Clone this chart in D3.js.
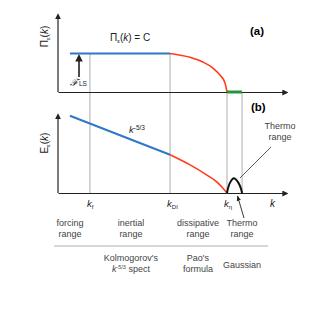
<!DOCTYPE html>
<html lang="en">
  <head>
    <meta charset="utf-8">
    <script src="https://cdn.jsdelivr.net/npm/d3@7"></script>
    <style>
      body { margin: 0; background: #fff; }
      svg text { font-family: "Liberation Sans", Arial, sans-serif; }
      .lbl { font-size: 9.5px; fill: #222; }
      .rng { font-size: 9px; fill: #444; text-anchor: middle; }
      .axis path { stroke: #222; stroke-width: 1.2; }
    </style>
  </head>
  <body>
    <svg width="313" height="313" id="chart"></svg>
    <script>
// k positions (arbitrary units along the k axis)
const kMarks = [
  {name: "f", k: 14.2},
  {name: "DI", k: 49.8},
  {name: "η", k: 75.1},
  {name: "", k: 81.8}
];

// panel (a): energy flux
const fluxFlat = [[5.3, 0.5], [49.8, 0.5]];
const fluxDrop = [[49.8, 0.5], [58.7, 0.45], [64.4, 0.39], [68.9, 0.31], [72, 0.22], [74.2, 0.12], [75.1, 0]];
const fluxThermo = [[75.1, 0], [81.8, 0]];

// panel (b): energy spectrum
const specInertial = [[5.3, 0.99], [49.8, 0.49]];
const specDissip = [[49.8, 0.49], [58.7, 0.36], [66.2, 0.23], [70.7, 0.14], [73, 0.07], [75.1, 0]];
const specThermo = [[75.1, 0], [76.4, 0.13], [78.2, 0.19], [80, 0.14], [81.3, 0.06], [81.8, 0]];

// range labels
const rangeTop = [
  {k: 5.3, lines: ["forcing", "range"]},
  {k: 32.4, lines: ["inertial", "range"]},
  {k: 62.2, lines: ["dissipative", "range"]},
  {k: 81.8, lines: ["Thermo", "range"]}
];

const svg = d3.select("#chart");

const x = d3.scaleLinear().domain([0, 100]).range([58, 283]);
const yA = d3.scaleLinear().domain([0, 1]).range([92, 15]);
const yB = d3.scaleLinear().domain([0, 1]).range([193, 115]);

const defs = svg.append("defs");
defs.append("marker")
    .attr("id", "head")
    .attr("viewBox", "0 0 10 10")
    .attr("refX", 2).attr("refY", 5)
    .attr("markerWidth", 5).attr("markerHeight", 5)
    .attr("orient", "auto")
  .append("path")
    .attr("d", "M0,0 L10,5 L0,10 z")
    .attr("fill", "#222");
defs.append("marker")
    .attr("id", "thin")
    .attr("viewBox", "0 0 10 10")
    .attr("refX", 9).attr("refY", 5)
    .attr("markerWidth", 6).attr("markerHeight", 6)
    .attr("orient", "auto")
  .append("path")
    .attr("d", "M0,1 L10,5 L0,9 z")
    .attr("fill", "#222");

// vertical guide lines
svg.selectAll(".guide")
    .data(kMarks)
    .enter()
    .append("line")
    .attr("x1", d => x(d.k))
    .attr("x2", d => x(d.k))
    .attr("y1", d => d.k < 60 ? yA(0.5) : yA(0))
    .attr("y2", yB(0))
    .attr("stroke", "#9a9a9a")
    .attr("stroke-width", 0.8);

// axes
function drawAxes(y) {
  svg.append("g")
      .attr("class", "axis")
      .attr("transform", "translate(0," + y(0) + ")")
      .call(d3.axisBottom(x).tickValues([]).tickSizeOuter(0))
      .select("path").attr("marker-end", "url(#head)");
  svg.append("g")
      .attr("class", "axis")
      .attr("transform", "translate(" + x(0) + ",0)")
      .call(d3.axisLeft(y).tickValues([]).tickSizeOuter(0))
      .select("path")
      .attr("d", "M0," + y(0) + "V" + (y(1) + 3))
      .attr("marker-end", "url(#head)");
}
drawAxes(yA);
drawAxes(yB);

const lineA = d3.line().x(d => x(d[0])).y(d => yA(d[1])).curve(d3.curveMonotoneX);
const lineB = d3.line().x(d => x(d[0])).y(d => yB(d[1])).curve(d3.curveMonotoneX);
const bumpLine = d3.line().x(d => x(d[0])).y(d => yB(d[1])).curve(d3.curveCatmullRom);

function curve(data, gen, color, w) {
  svg.append("path")
      .attr("d", gen(data))
      .attr("fill", "none")
      .attr("stroke", color)
      .attr("stroke-width", w);
}
curve(fluxFlat, lineA, "#2f78c8", 2);
curve(fluxDrop, lineA, "#ff3b1b", 1.6);
curve(fluxThermo, lineA, "#23953a", 3);
curve(specInertial, lineB, "#2f78c8", 2);
curve(specDissip, lineB, "#ff3b1b", 1.6);
curve(specThermo, bumpLine, "#111", 2);

// panel tags
svg.append("text").attr("x", 250).attr("y", 35)
    .style("font-size", "11.5px").style("font-weight", "bold").text("(a)");
svg.append("text").attr("x", 251).attr("y", 111)
    .style("font-size", "11.5px").style("font-weight", "bold").text("(b)");

// y labels
function yLabel(cy, main, sub) {
  const t = svg.append("text")
      .attr("class", "lbl")
      .style("font-size", "10px")
      .attr("text-anchor", "middle")
      .attr("transform", "translate(48," + cy + ") rotate(-90)");
  t.append("tspan").text(main);
  t.append("tspan").attr("dy", 2).style("font-size", "6px").text("ε");
  t.append("tspan").attr("dy", -2).text("(");
  t.append("tspan").style("font-style", "italic").text("k");
  t.append("tspan").text(")");
}
yLabel(yA(0.72), "Π", "ε");
yLabel(yB(0.64), "E", "ε");

// flux equation
const eq = svg.append("text").attr("class", "lbl").attr("x", 110).attr("y", 41).style("font-size", "10px");
eq.append("tspan").text("Π");
eq.append("tspan").attr("dy", 2).style("font-size", "6px").text("ε");
eq.append("tspan").attr("dy", -2).text("(");
eq.append("tspan").style("font-style", "italic").text("k");
eq.append("tspan").text(") = C");

// forcing arrow
svg.append("line")
    .attr("x1", 79).attr("x2", 79)
    .attr("y1", 77).attr("y2", 60)
    .attr("stroke", "#111").attr("stroke-width", 1.5)
    .attr("marker-end", "url(#head)");
const fl = svg.append("text").attr("class", "lbl").attr("x", 70).attr("y", 86);
fl.append("tspan").style("font-size", "10px").style("font-style", "italic").style("font-family", "DejaVu Serif").text("ℱ");
fl.append("tspan").style("font-size", "6.5px").attr("dx", 1).text("LS");

// k^-5/3 label
const kl = svg.append("text").attr("class", "lbl").attr("x", 129).attr("y", 133);
kl.append("tspan").style("font-style", "italic").text("k");
kl.append("tspan").attr("dy", -3).style("font-size", "6.5px").text("-5/3");

// k tick labels
const kt = svg.selectAll(".kt")
    .data(kMarks.filter(d => d.name))
    .enter()
    .append("text")
    .attr("class", "lbl")
    .attr("x", d => x(d.k) - 3)
    .attr("y", 207);
kt.append("tspan").style("font-style", "italic").text("k");
kt.append("tspan").attr("dy", 1.5).style("font-size", "6px").text(d => d.name);
svg.append("text").attr("class", "lbl").attr("x", 270).attr("y", 207)
    .style("font-style", "italic").style("font-size", "10px").text("k");

// thermo callouts
svg.append("line")
    .attr("x1", 271).attr("y1", 147).attr("x2", 240).attr("y2", 178)
    .attr("stroke", "#333").attr("stroke-width", 0.8);
svg.append("line")
    .attr("x1", 244).attr("y1", 218).attr("x2", 237.5).attr("y2", 196)
    .attr("stroke", "#222").attr("stroke-width", 0.9)
    .attr("marker-end", "url(#thin)");
svg.append("text").attr("class", "rng").attr("x", 280).attr("y", 129).text("Thermo");
svg.append("text").attr("class", "rng").attr("x", 280).attr("y", 140).text("range");

// range labels
svg.selectAll(".rt")
    .data(rangeTop)
    .enter()
    .append("text")
    .attr("class", "rng")
    .attr("x", d => x(d.k))
    .attr("y", 226)
    .selectAll("tspan")
    .data(d => d.lines.map(l => ({l, k: d.k})))
    .enter()
    .append("tspan")
    .attr("x", d => x(d.k))
    .attr("dy", (d, i) => i ? 11 : 0)
    .text(d => d.l);

svg.append("line")
    .attr("x1", 54).attr("x2", 268)
    .attr("y1", 246).attr("y2", 246)
    .attr("stroke", "#999").attr("stroke-width", 0.8);

const kol = svg.append("text").attr("class", "rng").attr("x", x(32.4)).attr("y", 261);
kol.text("Kolmogorov's");
const sp = svg.append("text").attr("class", "rng").attr("x", x(32.4)).attr("y", 272);
sp.append("tspan").style("font-style", "italic").text("k");
sp.append("tspan").attr("dy", -3).style("font-size", "5.5px").text("-5/3");
sp.append("tspan").attr("dy", 3).text(" spect");
svg.append("text").attr("class", "rng").attr("x", x(62.2)).attr("y", 261).text("Pao's");
svg.append("text").attr("class", "rng").attr("x", x(62.2)).attr("y", 272).text("formula");
svg.append("text").attr("class", "rng").attr("x", x(81.8)).attr("y", 268).text("Gaussian");
    </script>
  </body>
</html>
